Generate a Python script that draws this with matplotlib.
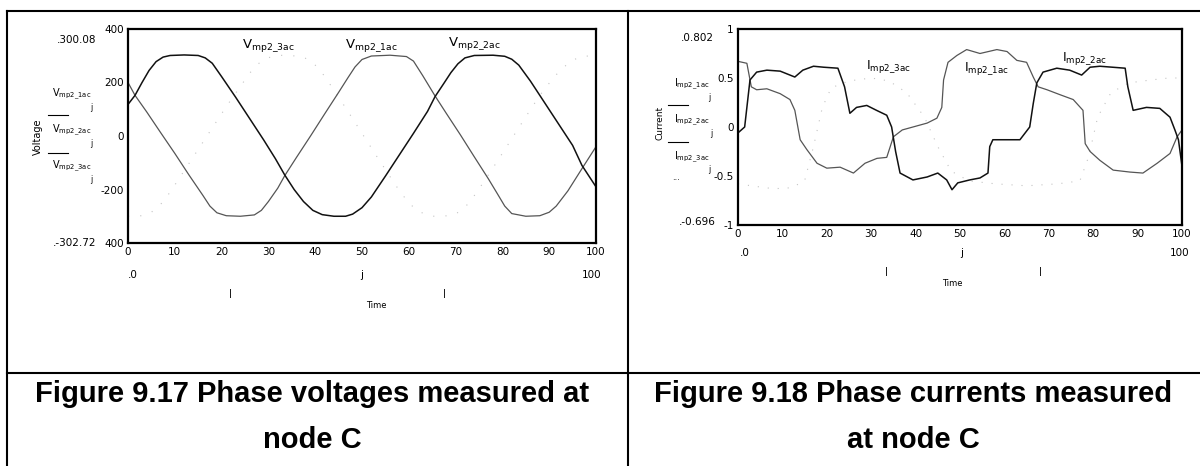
import matplotlib
matplotlib.use('Agg')
from matplotlib import pyplot as plt
from matplotlib.lines import Line2D

# voltages at node C, time index j = 0..100
t_v1 = [0, 1.5, 4, 7, 10, 13, 16, 17.5, 19, 21, 24, 27, 28.5, 30, 32, 33.5, 36, 39, 42, 45, 47, 48.5,
        50, 52, 56, 59.5, 61, 63, 65.6, 68, 71, 74, 77, 79, 80.5, 82, 85, 88, 90, 91.5, 94, 97, 100]
v_mp2_1ac = [200, 152, 90, 12, -65, -145, -222, -262, -287, -298, -300, -295, -278, -245, -195, -148,
             -80, 0, 82, 163, 218, 258, 286, 299, 302, 297, 280, 225, 150, 85, 5, -78, -160, -218,
             -262, -290, -300, -298, -285, -262, -205, -122, -40]

t_v2 = [0, 1.5, 3, 4.5, 6, 7.5, 9, 12, 15, 16.5, 18, 20, 23, 26, 29, 31.5, 33.5, 35.5, 37.5, 39.5,
        41.5, 44, 46.5, 48, 50, 52, 55, 58, 61, 64, 65.6, 67.5, 69, 70.5, 72, 74, 78, 80.5, 82, 83.5,
        86, 89, 92, 95, 97, 100]
v_mp2_2ac = [118, 152, 200, 245, 278, 295, 301, 303, 301, 292, 272, 222, 145, 65, -15, -85, -146,
             -200, -245, -278, -294, -300, -300, -292, -268, -228, -150, -70, 10, 92, 147, 197, 237,
             270, 292, 301, 302, 298, 287, 265, 205, 125, 45, -35, -110, -190]

t_v3 = [0, 3, 5, 7, 9, 12, 15, 18, 21, 24, 26, 28, 30, 33, 37, 39, 41, 44, 47, 50, 53, 56, 58, 60,
        62, 65, 69, 71, 73, 76, 79, 82, 85, 88, 91, 93, 95, 97, 100]
v_mp2_3ac = [-300, -298, -285, -255, -210, -130, -50, 30, 110, 185, 235, 272, 293, 302, 298, 282,
             248, 172, 92, 10, -72, -152, -205, -250, -282, -300, -298, -282, -248, -172, -92, -10,
             72, 152, 220, 256, 283, 298, 300]

# currents at node C
t_i1 = [0, 2, 3, 4.2, 6.5, 9.5, 11.7, 12.8, 14, 15.5, 17.8, 20, 23, 26, 28.6, 31.3, 33.5, 35, 37,
        39.4, 42.6, 44.8, 45.9, 46.3, 47.3, 49.3, 51.5, 54.5, 58.3, 60.6, 62.8, 65, 66.5, 67.6, 69.6,
        72.5, 75.5, 77.7, 78.2, 79.3, 81.5, 84.5, 88.3, 91.2, 94.4, 97.3, 98.9, 100]
i_mp2_1ac = [0.67, 0.65, 0.41, 0.38, 0.39, 0.34, 0.28, 0.17, -0.13, -0.23, -0.37, -0.42, -0.41,
             -0.47, -0.37, -0.32, -0.31, -0.1, -0.03, 0.0, 0.04, 0.09, 0.2, 0.48, 0.66, 0.73, 0.79,
             0.75, 0.79, 0.77, 0.68, 0.66, 0.51, 0.41, 0.38, 0.33, 0.28, 0.17, -0.17, -0.25, -0.34,
             -0.44, -0.46, -0.47, -0.37, -0.27, -0.1, -0.03]

t_i2 = [0, 1.5, 2.7, 4.2, 6.5, 9.5, 12.8, 14.6, 17, 19.3, 22.5, 24, 25.2, 26.7, 29, 31.2, 33.5,
        34.6, 35.5, 36.5, 39.4, 42.6, 45, 47, 48.2, 49.5, 52.2, 54.5, 56.3, 56.7, 57.4, 60.5, 63.5,
        65.7, 66.5, 67.3, 68.7, 71.8, 74.7, 77.4, 79.3, 81.5, 87.2, 87.8, 89, 92, 95, 97.3, 98.4,
        99.2, 100]
i_mp2_2ac = [-0.06, 0.0, 0.48, 0.56, 0.58, 0.57, 0.51, 0.58, 0.62, 0.61, 0.6, 0.41, 0.14, 0.2,
             0.22, 0.17, 0.12, 0.0, -0.25, -0.47, -0.54, -0.51, -0.47, -0.54, -0.64, -0.57, -0.54,
             -0.52, -0.47, -0.2, -0.13, -0.13, -0.13, 0.0, 0.24, 0.45, 0.56, 0.6, 0.58, 0.53, 0.61,
             0.62, 0.6, 0.41, 0.17, 0.2, 0.19, 0.1, -0.03, -0.13, -0.4]

t_i3 = [0, 3, 8, 12, 15, 17, 19, 21, 25, 30, 34, 38, 42, 45, 48, 52, 58, 65, 72, 77, 79, 81, 84,
        88, 93, 97, 100]
i_mp2_3ac = [-0.58, -0.6, -0.63, -0.62, -0.55, -0.2, 0.2, 0.4, 0.47, 0.5, 0.47, 0.35, 0.1, -0.2,
             -0.45, -0.55, -0.58, -0.6, -0.58, -0.55, -0.3, 0.1, 0.35, 0.45, 0.48, 0.5, 0.5]

x_ticks = [0, 10, 20, 30, 40, 50, 60, 70, 80, 90, 100]
v_ticks = [-400, -200, 0, 200, 400]
v_tick_labels = ['400', '-200', '0', '200', '400']
i_ticks = [-1, -0.5, 0, 0.5, 1]
i_tick_labels = ['-1', '-0.5', '0', '0.5', '1']

W, H = 1200, 466
fig = plt.figure(figsize=(W / 100, H / 100), dpi=100)


def fx(px):
    return px / W


def fy(py):
    return 1 - py / H


def box(l, t, r, b):
    return [fx(l), fy(b), fx(r) - fx(l), fy(t) - fy(b)]


def fline(x0, y0, x1, y1, lw=1.5):
    fig.add_artist(Line2D([fx(x0), fx(x1)], [fy(y0), fy(y1)], transform=fig.transFigure,
                          color='black', lw=lw))


def ftext(px, py, s, **kw):
    kw.setdefault('fontsize', 7.5)
    kw.setdefault('ha', 'center')
    kw.setdefault('va', 'center')
    fig.text(fx(px), fy(py), s, **kw)


# table frame
fline(7, 11, 1200, 11)
fline(7, 11, 7, 466)
fline(628, 11, 628, 466)
fline(7, 373, 1200, 373)


def style(ax, yt, ylab):
    for s in ax.spines.values():
        s.set_linewidth(1.6)
    ax.set_xlim(0, 100)
    ax.set_xticks(x_ticks)
    ax.set_yticks(yt)
    ax.set_yticklabels(ylab)
    ax.tick_params(length=0, labelsize=7.5, pad=3)


# ---- left: voltages
ax1 = fig.add_axes(box(128, 29, 596, 243))
ax1.plot(t_v3, v_mp2_3ac, color='#c4c4c4', lw=0.8, ls=(0, (1, 10)))
ax1.plot(t_v1, v_mp2_1ac, color='#555555', lw=0.9)
ax1.plot(t_v2, v_mp2_2ac, color='#111111', lw=1.1)
ax1.set_ylim(-400, 400)
style(ax1, v_ticks, v_tick_labels)
ax1.text(30, 340, r'$\mathrm{V}_{\mathrm{mp2\_3ac}}$', fontsize=9.5, ha='center', va='center')
ax1.text(52, 340, r'$\mathrm{V}_{\mathrm{mp2\_1ac}}$', fontsize=9.5, ha='center', va='center')
ax1.text(74, 345, r'$\mathrm{V}_{\mathrm{mp2\_2ac}}$', fontsize=9.5, ha='center', va='center')

ftext(77, 40, '.300.08')
ftext(75, 243, '.-302.72')
ftext(38, 137, 'Voltage', rotation=90, fontsize=7)
ftext(72, 94, r'$\mathrm{V}_{\mathrm{mp2\_1ac}}$', fontsize=7)
ftext(91, 108, 'j', fontsize=5.5)
fline(48, 115, 68, 115, lw=0.8)
ftext(72, 130, r'$\mathrm{V}_{\mathrm{mp2\_2ac}}$', fontsize=7)
ftext(91, 144, 'j', fontsize=5.5)
fline(48, 153, 68, 153, lw=0.8)
ftext(72, 166, r'$\mathrm{V}_{\mathrm{mp2\_3ac}}$', fontsize=7)
ftext(91, 180, 'j', fontsize=5.5)

ftext(133, 275, '.0')
ftext(362, 275, 'j')
ftext(592, 275, '100')
ftext(230, 293, '|', fontsize=6, fontweight='bold')
ftext(445, 293, '|', fontsize=6, fontweight='bold')
ftext(376, 306, 'Time', fontsize=6)

# ---- right: currents
ax2 = fig.add_axes(box(738, 29, 1182, 225))
ax2.plot(t_i3, i_mp2_3ac, color='#c4c4c4', lw=0.8, ls=(0, (1, 8)))
ax2.plot(t_i1, i_mp2_1ac, color='#555555', lw=0.9)
ax2.plot(t_i2, i_mp2_2ac, color='#111111', lw=1.1)
ax2.set_ylim(-1, 1)
style(ax2, i_ticks, i_tick_labels)
ax2.text(34, 0.62, r'$\mathrm{I}_{\mathrm{mp2\_3ac}}$', fontsize=9, ha='center', va='center')
ax2.text(56, 0.6, r'$\mathrm{I}_{\mathrm{mp2\_1ac}}$', fontsize=9, ha='center', va='center')
ax2.text(78, 0.7, r'$\mathrm{I}_{\mathrm{mp2\_2ac}}$', fontsize=9, ha='center', va='center')

ftext(697, 38, '.0.802')
ftext(697, 222, '.-0.696')
ftext(660, 123, 'Current', rotation=90, fontsize=6.5)
ftext(692, 84, r'$\mathrm{I}_{\mathrm{mp2\_1ac}}$', fontsize=7)
ftext(709, 97, 'j', fontsize=5.5)
fline(668, 105, 688, 105, lw=0.8)
ftext(692, 120, r'$\mathrm{I}_{\mathrm{mp2\_2ac}}$', fontsize=7)
ftext(711, 133, 'j', fontsize=5.5)
fline(668, 142, 688, 142, lw=0.8)
ftext(692, 157, r'$\mathrm{I}_{\mathrm{mp2\_3ac}}$', fontsize=7)
ftext(709, 170, 'j', fontsize=5.5)
ftext(676, 178, '...', fontsize=6)

ftext(745, 253, '.0')
ftext(962, 253, 'j')
ftext(1180, 253, '100')
ftext(887, 272, '|', fontsize=6, fontweight='bold')
ftext(1040, 272, '|', fontsize=6, fontweight='bold')
ftext(952, 284, 'Time', fontsize=6)

# captions
cap = dict(fontsize=21, fontweight='bold', family='Liberation Sans')
ftext(312, 394, 'Figure 9.17 Phase voltages measured at', **cap)
ftext(312, 440, 'node C', **cap)
ftext(913, 394, 'Figure 9.18 Phase currents measured', **cap)
ftext(913, 440, 'at node C', **cap)

fig.savefig('out.png', dpi=100)
